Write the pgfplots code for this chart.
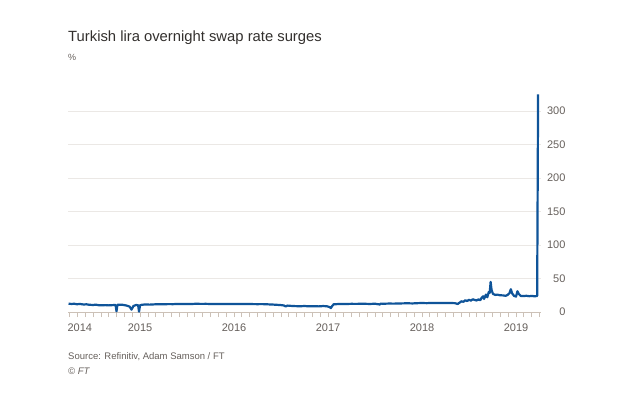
\documentclass[border=0pt]{standalone}
\usepackage{pgfplots}
\pgfplotsset{compat=1.18}
\usepackage{fontspec}
\setmainfont{Liberation Sans}
\definecolor{ftblue}{HTML}{0F5499}
\definecolor{fttext}{HTML}{33302E}
\definecolor{ftgray}{HTML}{66605C}
\definecolor{ftgrid}{HTML}{EBE8E5}
\definecolor{fttick}{HTML}{CCC1B7}

\begin{document}
\begin{tikzpicture}
\path[use as bounding box, fill=white] (0pt,0pt) rectangle (620pt,402pt);
\node[anchor=base west, font=\fontsize{14.8}{16}\selectfont, text=fttext, inner sep=0] at (68pt,360pt) {Turkish lira overnight swap rate surges};
\node[anchor=base west, font=\fontsize{9}{10}\selectfont, text=ftgray, inner sep=0] at (68pt,341pt) {\%};
% Overnight swap rate, % (x = decimal year)
\begin{axis}[
  at={(68pt,90pt)}, anchor=south west,
  scale only axis, width=473pt, height=221pt,
  xmin=2014.234, xmax=2019.266, ymin=0, ymax=330,
  axis x line=bottom, axis y line=right,
  x axis line style={fttick, line width=0.8pt, -},
  y axis line style={draw=none},
  xtick={2015,2016,2017,2018,2019},
  xticklabels={2015,2016,2017,2018,2019},
  extra x ticks={2014.36}, extra x tick labels={2014},
  extra x tick style={major tick length=0pt, xticklabel style={yshift=-5pt}},
  minor xtick={2014.25,2014.3333,...,2019.26},
  tick align=outside,
  major tick length=5pt, minor tick length=5pt,
  xtick style={fttick, line width=0.6pt},
  ytick={0,50,...,300},
  ytick style={draw=none},
  ymajorgrids, grid style={ftgrid, line width=0.6pt},
  tick label style={font=\fontsize{11}{12}\selectfont, text=ftgray},
  yticklabel style={anchor=east, xshift=23pt},
  xticklabel style={yshift=-3pt},
  /pgf/number format/assume math mode=true,
  clip=false,
]
\addplot[ftblue, line width=2.2pt, line join=round] table {
x y
2014.240 12.5
2014.270 12.0
2014.300 12.3
2014.330 11.6
2014.360 12.0
2014.400 11.2
2014.430 11.5
2014.460 10.8
2014.500 10.5
2014.530 10.9
2014.560 10.2
2014.600 10.0
2014.630 10.3
2014.660 9.9
2014.700 10.2
2014.740 10.5
2014.750 1.0
2014.760 10.8
2014.800 11.0
2014.830 10.4
2014.860 9.5
2014.890 8.0
2014.910 3.5
2014.930 9.0
2014.960 10.5
2014.980 10.0
2014.990 0.5
2015.000 10.0
2015.020 10.8
2015.060 11.3
2015.100 11.0
2015.150 11.4
2015.200 11.6
2015.250 11.5
2015.300 11.8
2015.350 11.7
2015.400 12.0
2015.450 11.9
2015.500 12.1
2015.550 12.0
2015.600 12.3
2015.650 12.1
2015.700 12.2
2015.750 12.0
2015.800 12.1
2015.850 12.0
2015.900 11.9
2015.950 12.0
2016.000 12.1
2016.050 12.0
2016.100 11.9
2016.150 12.0
2016.200 11.8
2016.250 11.7
2016.300 11.8
2016.350 11.5
2016.400 11.2
2016.450 10.8
2016.500 10.3
2016.530 9.8
2016.550 8.3
2016.570 9.6
2016.600 9.2
2016.650 8.8
2016.700 8.6
2016.750 8.9
2016.800 8.5
2016.850 8.7
2016.900 8.4
2016.950 8.9
2016.990 8.5
2017.020 7.2
2017.030 5.8
2017.045 9.0
2017.060 11.5
2017.100 11.8
2017.150 11.9
2017.200 12.0
2017.250 12.2
2017.300 12.1
2017.350 12.3
2017.400 12.2
2017.450 12.0
2017.500 12.4
2017.550 11.2
2017.560 12.5
2017.600 12.4
2017.650 12.6
2017.700 12.5
2017.750 12.7
2017.800 12.9
2017.850 13.0
2017.900 12.8
2017.950 13.2
2018.000 13.4
2018.050 13.2
2018.100 13.5
2018.150 13.3
2018.200 13.6
2018.250 13.4
2018.300 13.5
2018.350 13.2
2018.380 12.0
2018.400 14.0
2018.420 16.0
2018.440 15.2
2018.460 17.5
2018.480 16.4
2018.500 18.2
2018.520 17.0
2018.540 19.0
2018.560 18.0
2018.580 17.2
2018.600 18.8
2018.620 17.6
2018.635 21.5
2018.650 23.5
2018.660 19.5
2018.680 26.0
2018.695 22.0
2018.710 30.0
2018.720 28.5
2018.730 45.0
2018.740 33.0
2018.755 27.0
2018.780 25.5
2018.800 26.0
2018.830 25.0
2018.860 24.8
2018.890 24.2
2018.910 25.5
2018.930 28.0
2018.945 34.0
2018.960 27.5
2018.980 24.0
2019.000 23.0
2019.015 31.0
2019.030 27.0
2019.050 24.0
2019.080 23.8
2019.110 24.2
2019.140 23.6
2019.170 24.0
2019.200 23.4
2019.225 24.0
2019.235 325.0
};
\end{axis}
\node[anchor=base west, font=\fontsize{9.5}{11}\selectfont, text=ftgray, inner sep=0] at (68pt,43pt) {Source: Refinitiv, Adam Samson / FT};
\node[anchor=base west, font=\fontsize{9.5}{11}\selectfont\itshape, text=ftgray, inner sep=0] at (68pt,28pt) {© FT};
\end{tikzpicture}
\end{document}
